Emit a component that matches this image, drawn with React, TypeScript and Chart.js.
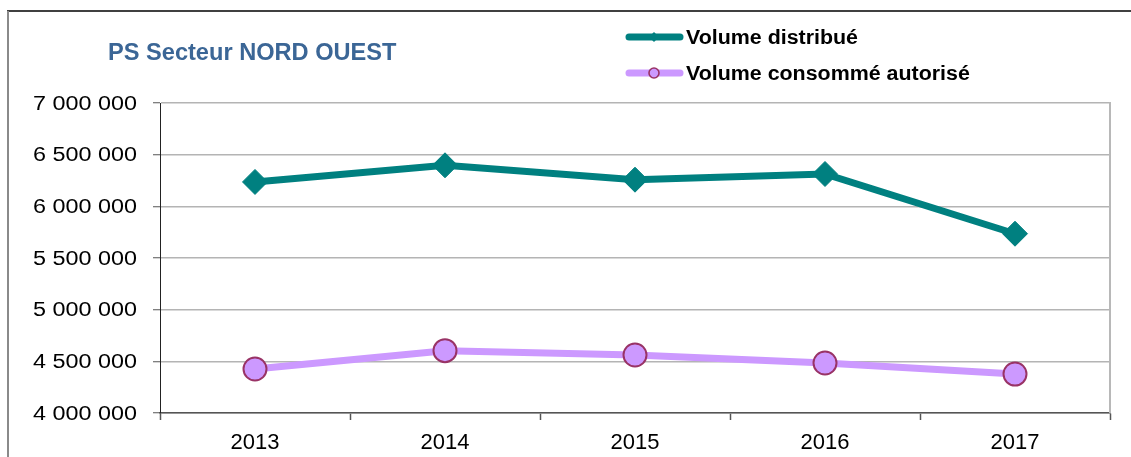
import React, { useEffect, useRef } from 'react';
import { Chart, registerables } from 'chart.js';

Chart.register(...registerables);

const categories = ['2013', '2014', '2015', '2016', '2017'];
const volumeDistribue = [6236000, 6397000, 6258000, 6313000, 5735000];
const volumeConsomme = [4426000, 4603000, 4561000, 4484000, 4377000];
const seriesNames = ['Volume distribué', 'Volume consommé autorisé'];
const chartTitle = 'PS Secteur NORD OUEST';
const yMin = 4000000;
const yMax = 7000000;
const yStep = 500000;

const FONT = '"Liberation Sans", Arial, sans-serif';
const TEAL = '#008080';
const VIOLET = '#cc99ff';
const VIOLET_BORDER = '#993366';

function formatThousands(v: number): string {
  return String(Math.round(v)).replace(/\B(?=(\d{3})+(?!\d))/g, ' ');
}

function wideText(ctx: any, text: string, x: number, y: number, sx: number, align: string) {
  ctx.save();
  ctx.translate(x, y);
  ctx.scale(sx, 1);
  ctx.textAlign = align;
  ctx.fillText(text, 0, 0);
  ctx.restore();
}

const decorPlugin = {
  id: 'decor',
  beforeDraw(chart: any) {
    const ctx = chart.ctx;
    ctx.save();
    ctx.fillStyle = '#ffffff';
    ctx.fillRect(0, 0, chart.width, chart.height);
    ctx.strokeStyle = '#000000';
    ctx.lineWidth = 1.5;
    ctx.beginPath();
    ctx.moveTo(7, 11);
    ctx.lineTo(chart.width, 11);
    ctx.stroke();
    ctx.strokeStyle = '#8a8a8a';
    ctx.lineWidth = 2;
    ctx.beginPath();
    ctx.moveTo(8, 11);
    ctx.lineTo(8, chart.height);
    ctx.stroke();
    ctx.restore();
  },
  beforeDatasetsDraw(chart: any) {
    const ctx = chart.ctx;
    const a = chart.chartArea;
    ctx.save();
    ctx.strokeStyle = '#b8b8b8';
    ctx.lineWidth = 2;
    ctx.beginPath();
    ctx.moveTo(a.right, a.top - 1);
    ctx.lineTo(a.right, a.bottom);
    ctx.stroke();
    ctx.restore();
  },
  afterDraw(chart: any) {
    const ctx = chart.ctx;
    ctx.save();
    // y tick labels (wide Arial look)
    const ys = chart.scales.y;
    ctx.font = `20.5px ${FONT}`;
    ctx.fillStyle = '#000000';
    ctx.textBaseline = 'middle';
    ys.ticks.forEach((t: any) => {
      const py = ys.getPixelForValue(t.value);
      wideText(ctx, formatThousands(t.value), ys.right - 23, py + 1, 1.14, 'right');
    });

    // title
    ctx.font = `bold 23.6px ${FONT}`;
    ctx.fillStyle = '#3b6696';
    ctx.textAlign = 'left';
    ctx.textBaseline = 'alphabetic';
    ctx.fillText(chartTitle, 108, 60);

    // legend
    const items = chart.data.datasets;
    const rows = [37, 73];
    items.forEach((ds: any, i: number) => {
      const y = rows[i];
      ctx.lineCap = 'round';
      ctx.strokeStyle = ds.borderColor;
      ctx.lineWidth = 7;
      ctx.beginPath();
      ctx.moveTo(629, y);
      ctx.lineTo(680, y);
      ctx.stroke();
      const cx = 654;
      if (ds.pointStyle === 'rectRot') {
        ctx.fillStyle = ds.pointBackgroundColor;
        ctx.beginPath();
        ctx.moveTo(cx - 5, y);
        ctx.lineTo(cx, y - 5);
        ctx.lineTo(cx + 5, y);
        ctx.lineTo(cx, y + 5);
        ctx.closePath();
        ctx.fill();
      } else {
        ctx.fillStyle = ds.pointBackgroundColor;
        ctx.strokeStyle = ds.pointBorderColor;
        ctx.lineWidth = 1.6;
        ctx.beginPath();
        ctx.arc(cx, y, 5, 0, Math.PI * 2);
        ctx.fill();
        ctx.stroke();
      }
      ctx.font = `bold 20px ${FONT}`;
      ctx.fillStyle = '#000000';
      ctx.textBaseline = 'alphabetic';
      wideText(ctx, ds.label, 686, y + 7, 1.07, 'left');
    });
    ctx.restore();
  },
};

export default function App() {
  const canvasRef = useRef<HTMLCanvasElement | null>(null);

  useEffect(() => {
    if (!canvasRef.current) return;
    const chart = new Chart(canvasRef.current, {
      type: 'line',
      data: {
        labels: categories,
        datasets: [
          {
            label: seriesNames[0],
            data: volumeDistribue,
            borderColor: TEAL,
            backgroundColor: TEAL,
            borderWidth: 7,
            pointStyle: 'rectRot',
            pointRadius: 12.5,
            pointBackgroundColor: TEAL,
            pointBorderColor: TEAL,
            pointBorderWidth: 1,
            tension: 0,
          },
          {
            label: seriesNames[1],
            data: volumeConsomme,
            borderColor: VIOLET,
            backgroundColor: VIOLET,
            borderWidth: 7,
            pointStyle: 'circle',
            pointRadius: 11.5,
            pointBackgroundColor: VIOLET,
            pointBorderColor: VIOLET_BORDER,
            pointBorderWidth: 2,
            tension: 0,
          },
        ],
      },
      options: {
        animation: false,
        responsive: true,
        maintainAspectRatio: false,
        layout: { padding: { top: 103, right: 21, bottom: 0, left: 0 } },
        plugins: {
          legend: { display: false },
          title: { display: false },
          tooltip: { enabled: false },
        },
        scales: {
          x: {
            type: 'category',
            offset: true,
            grid: {
              offset: true,
              drawOnChartArea: false,
              drawTicks: true,
              tickLength: 7,
              tickColor: '#555555',
              tickWidth: 1.5,
            },
            border: { color: '#555555', width: 1.5 },
            ticks: {
              color: '#000000',
              font: { family: FONT, size: 22 },
              padding: 10,
              maxRotation: 0,
            },
            afterFit(scale: any) {
              scale.height = 44;
            },
          },
          y: {
            min: yMin,
            max: yMax,
            ticks: {
              stepSize: yStep,
              display: false,
            },
            grid: {
              color: '#b4b4b4',
              lineWidth: 1.5,
              drawTicks: true,
              tickLength: 7,
              tickColor: '#555555',
              tickWidth: 1,
            },
            border: { color: '#222222', width: 1 },
            afterFit(scale: any) {
              scale.width = 160;
            },
          },
        },
      },
      plugins: [decorPlugin],
    });
    return () => chart.destroy();
  }, []);

  return (
    <div style={{ position: 'fixed', left: 0, top: 0, width: 1131, height: 457, background: '#ffffff' }}>
      <canvas ref={canvasRef} />
    </div>
  );
}
